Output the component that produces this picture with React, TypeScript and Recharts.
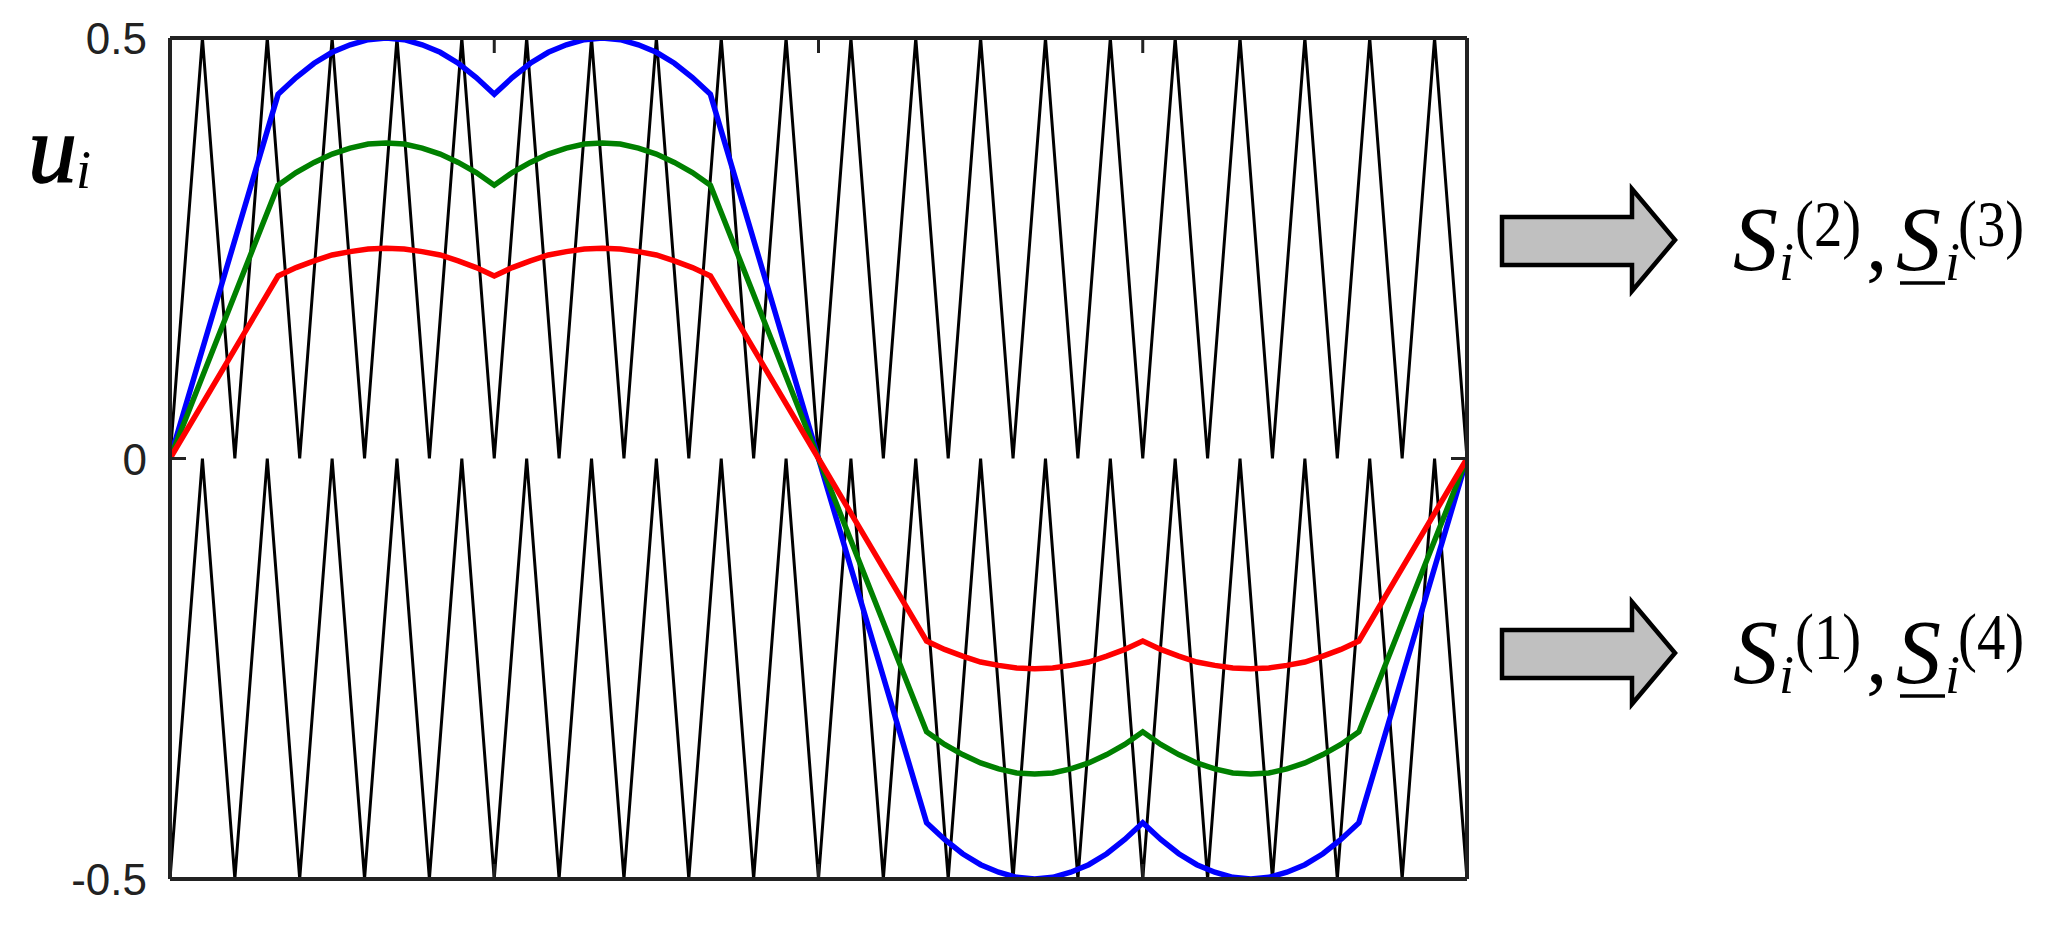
import React from 'react';
import { LineChart, Line, XAxis, YAxis } from 'recharts';

// Carrier vertices (degrees of the fundamental period)
const carrierDeg = [0, 9, 18, 27, 36, 45, 54, 63, 72, 81, 90, 99, 108, 117, 126, 135, 144, 153, 162, 171, 180, 189, 198, 207, 216, 225, 234, 243, 252, 261, 270, 279, 288, 297, 306, 315, 324, 333, 342, 351, 360];
const carrierUpper = [0, 0.5, 0, 0.5, 0, 0.5, 0, 0.5, 0, 0.5, 0, 0.5, 0, 0.5, 0, 0.5, 0, 0.5, 0, 0.5, 0, 0.5, 0, 0.5, 0, 0.5, 0, 0.5, 0, 0.5, 0, 0.5, 0, 0.5, 0, 0.5, 0, 0.5, 0, 0.5, 0];
const carrierLower = [-0.5, 0, -0.5, 0, -0.5, 0, -0.5, 0, -0.5, 0, -0.5, 0, -0.5, 0, -0.5, 0, -0.5, 0, -0.5, 0, -0.5, 0, -0.5, 0, -0.5, 0, -0.5, 0, -0.5, 0, -0.5, 0, -0.5, 0, -0.5, 0, -0.5, 0, -0.5, 0, -0.5];

// Modulating waves
const modDeg = [0, 30, 35, 40, 45, 50, 55, 60, 65, 70, 75, 80, 85, 90, 95, 100, 105, 110, 115, 120, 125, 130, 135, 140, 145, 150, 180,
  210, 215, 220, 225, 230, 235, 240, 245, 250, 255, 260, 265, 270, 275, 280, 285, 290, 295, 300, 305, 310, 315, 320, 325, 330, 360];
const blueWave = [0, 0.433, 0.453, 0.470, 0.483, 0.492, 0.498, 0.500, 0.498, 0.492, 0.483, 0.470, 0.453, 0.433, 0.453, 0.470, 0.483, 0.492, 0.498, 0.500, 0.498, 0.492, 0.483, 0.470, 0.453, 0.433, 0,
  -0.433, -0.453, -0.470, -0.483, -0.492, -0.498, -0.500, -0.498, -0.492, -0.483, -0.470, -0.453, -0.433, -0.453, -0.470, -0.483, -0.492, -0.498, -0.500, -0.498, -0.492, -0.483, -0.470, -0.453, -0.433, 0];
const greenWave = [0, 0.325, 0.340, 0.352, 0.362, 0.369, 0.374, 0.375, 0.374, 0.369, 0.362, 0.352, 0.340, 0.325, 0.340, 0.352, 0.362, 0.369, 0.374, 0.375, 0.374, 0.369, 0.362, 0.352, 0.340, 0.325, 0,
  -0.325, -0.340, -0.352, -0.362, -0.369, -0.374, -0.375, -0.374, -0.369, -0.362, -0.352, -0.340, -0.325, -0.340, -0.352, -0.362, -0.369, -0.374, -0.375, -0.374, -0.369, -0.362, -0.352, -0.340, -0.325, 0];
const redWave = [0, 0.217, 0.227, 0.235, 0.242, 0.246, 0.249, 0.250, 0.249, 0.246, 0.242, 0.235, 0.227, 0.217, 0.227, 0.235, 0.242, 0.246, 0.249, 0.250, 0.249, 0.246, 0.242, 0.235, 0.227, 0.217, 0,
  -0.217, -0.227, -0.235, -0.242, -0.246, -0.249, -0.250, -0.249, -0.246, -0.242, -0.235, -0.227, -0.217, -0.227, -0.235, -0.242, -0.246, -0.249, -0.250, -0.249, -0.246, -0.242, -0.235, -0.227, -0.217, 0];

const yTicks = [-0.5, 0, 0.5];
const xTicks = [90, 180, 270];
const zeroTick = [0];

const carrierData = carrierDeg.map((x, i) => ({ x, up: carrierUpper[i], lo: carrierLower[i] }));
const modData = modDeg.map((x, i) => ({ x, b: blueWave[i], g: greenWave[i], r: redWave[i] }));

const AX = '#222222';

const YTick = (props: any) => {
  const { x, y, payload } = props;
  return (
    <text x={x} y={y} dy={16} textAnchor="end" fontFamily="'Liberation Sans', Arial, sans-serif" fontSize={44} fill="#222222">
      {String(payload.value)}
    </text>
  );
};

const NoLabel = () => <g />;

const serif = "'Liberation Serif', 'Times New Roman', serif";

const Arrow = ({ dy }: { dy: number }) => (
  <polygon
    points={`1502,${217 + dy} 1632,${217 + dy} 1632,${189 + dy} 1675,${240 + dy} 1632,${291 + dy} 1632,${265 + dy} 1502,${265 + dy}`}
    fill="#C0C0C0"
    stroke="#000"
    strokeWidth={4.5}
    strokeLinejoin="miter"
  />
);

const Sup = ({ x, y, t }: { x: number; y: number; t: string }) => (
  <text transform={`translate(${x},${y}) scale(0.86,1)`} x={0} y={0} fontSize={66}>{t}</text>
);

const SLabel = ({ y0, a, b }: { y0: number; a: string; b: string }) => (
  <g fontFamily={serif} fill="#000">
    <text x={1733} y={y0} fontSize={90} fontStyle="italic">S</text>
    <text x={1779} y={y0 + 10} fontSize={54} fontStyle="italic">i</text>
    <Sup x={1795} y={y0 - 24} t={a} />
    <text x={1866} y={y0} fontSize={86}>,</text>
    <text x={1896} y={y0} fontSize={90} fontStyle="italic">S</text>
    <line x1={1900} x2={1945} y1={y0 + 13} y2={y0 + 13} stroke="#000" strokeWidth={3.5} />
    <text x={1945} y={y0 + 10} fontSize={54} fontStyle="italic">i</text>
    <Sup x={1958} y={y0 - 24} t={b} />
  </g>
);

export default function App() {
  return (
    <div style={{ position: 'absolute', left: 0, top: 0, width: 2057, height: 932, background: '#fff' }}>
      <LineChart width={2057} height={932} margin={{ top: 38, right: 590, bottom: 53, left: 0 }}>
        <XAxis xAxisId="b" orientation="bottom" type="number" dataKey="x" domain={[0, 360]} allowDataOverflow
          ticks={xTicks} tick={<NoLabel />} mirror tickSize={15} height={30}
          axisLine={{ stroke: AX, strokeWidth: 4 }} tickLine={{ stroke: AX, strokeWidth: 3 }} />
        <XAxis xAxisId="t" orientation="top" type="number" dataKey="x" domain={[0, 360]} allowDataOverflow
          ticks={xTicks} tick={<NoLabel />} mirror tickSize={15} height={30}
          axisLine={{ stroke: AX, strokeWidth: 4 }} tickLine={{ stroke: AX, strokeWidth: 3 }} />
        <YAxis yAxisId="l" orientation="left" type="number" domain={[-0.5, 0.5]} allowDataOverflow
          ticks={yTicks} width={170} tickLine={false} tickSize={0} tickMargin={23} tick={<YTick />}
          axisLine={{ stroke: AX, strokeWidth: 4 }} />
        <YAxis yAxisId="lm" orientation="left" type="number" domain={[-0.5, 0.5]} allowDataOverflow
          ticks={zeroTick} width={30} mirror tick={<NoLabel />} tickSize={16} axisLine={false}
          tickLine={{ stroke: AX, strokeWidth: 3 }} />
        <YAxis yAxisId="r" orientation="right" type="number" domain={[-0.5, 0.5]} allowDataOverflow
          ticks={zeroTick} width={30} mirror tick={<NoLabel />} tickSize={16}
          axisLine={{ stroke: AX, strokeWidth: 4 }} tickLine={{ stroke: AX, strokeWidth: 3 }} />
        <Line xAxisId="b" yAxisId="l" data={carrierData} dataKey="up" type="linear" stroke="#000" strokeWidth={3} dot={false} activeDot={false} isAnimationActive={false} />
        <Line xAxisId="b" yAxisId="l" data={carrierData} dataKey="lo" type="linear" stroke="#000" strokeWidth={3} dot={false} activeDot={false} isAnimationActive={false} />
        <Line xAxisId="b" yAxisId="l" data={modData} dataKey="b" type="linear" stroke="#0000FF" strokeWidth={5.5} dot={false} activeDot={false} isAnimationActive={false} />
        <Line xAxisId="b" yAxisId="l" data={modData} dataKey="g" type="linear" stroke="#008000" strokeWidth={5.5} dot={false} activeDot={false} isAnimationActive={false} />
        <Line xAxisId="b" yAxisId="l" data={modData} dataKey="r" type="linear" stroke="#FF0000" strokeWidth={5.5} dot={false} activeDot={false} isAnimationActive={false} />
      </LineChart>
      <svg width={2057} height={932} style={{ position: 'absolute', left: 0, top: 0, pointerEvents: 'none' }}>
        <text x={28} y={182} fontFamily={serif} fontStyle="italic" fontSize={98} fill="#000" stroke="#000" strokeWidth={1.5}>u</text>
        <text x={76} y={188} fontFamily={serif} fontStyle="italic" fontSize={54} fill="#000">i</text>
        <Arrow dy={0} />
        <Arrow dy={413} />
        <SLabel y0={270} a="(2)" b="(3)" />
        <SLabel y0={683} a="(1)" b="(4)" />
      </svg>
    </div>
  );
}
